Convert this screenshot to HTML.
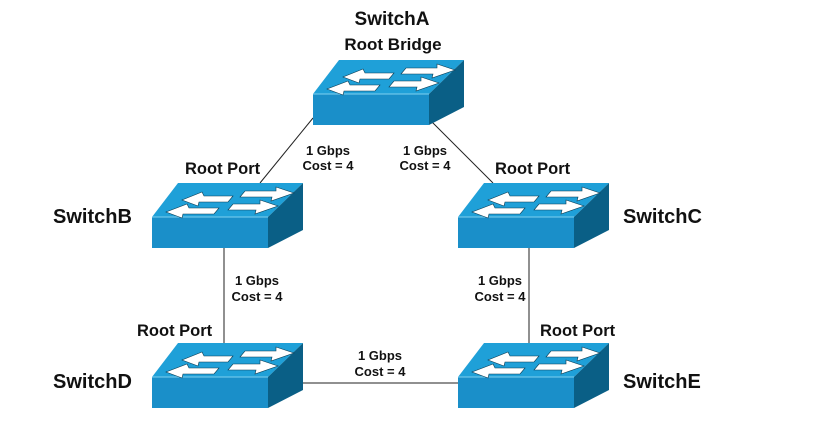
<!DOCTYPE html>
<html><head><meta charset="utf-8"><style>
body{margin:0;background:#fff;}
svg text{font-family:"Liberation Sans",Arial,sans-serif;font-weight:bold;fill:#111;}
</style></head><body>
<svg width="829" height="421" viewBox="0 0 829 421" xmlns="http://www.w3.org/2000/svg">
<defs>
<g id="sw">
  <polygon points="26,0 151,0 116,34 0,34" fill="#1fa0d8"/>
  <polygon points="0,34 116,34 116,65 0,65" fill="#1a8fc9"/>
  <polygon points="116,34 151,0 151,47 116,65" fill="#0a5f86"/>
  <line x1="0" y1="34" x2="116" y2="34" stroke="#7fd0f0" stroke-width="1"/>
  <g fill="#fff" stroke="#0b3b52" stroke-width="0.6">
    <polygon points="50,9 30,17 46,23 47,19 76,19 81,13 52,13"/>
    <polygon points="124,4 142,10 119,18 120,14 88,14 93,8 124,8"/>
    <polygon points="35,21 14,29 30,35 31,31 62,31 67,25 37,25"/>
    <polygon points="108,17 126,23 103,31 104,27 76,27 81,21 108,21"/>
  </g>
</g>
</defs>
<g stroke="#222" stroke-width="1" fill="none">
  <line x1="313" y1="118" x2="260" y2="183"/>
  <line x1="430" y1="120" x2="493" y2="183"/>
  <line x1="224" y1="248" x2="224" y2="343"/>
  <line x1="529" y1="248" x2="529" y2="343"/>
  <line x1="300" y1="383" x2="458" y2="383"/>
</g>
<use href="#sw" x="313" y="60"/>
<use href="#sw" x="152" y="183"/>
<use href="#sw" x="458" y="183"/>
<use href="#sw" x="152" y="343"/>
<use href="#sw" x="458" y="343"/>
<text x="392" y="25" font-size="19" text-anchor="middle">SwitchA</text>
<text x="393" y="50" font-size="17" text-anchor="middle">Root Bridge</text>
<text x="53" y="223" font-size="20">SwitchB</text>
<text x="623" y="223" font-size="20">SwitchC</text>
<text x="53" y="388" font-size="20">SwitchD</text>
<text x="623" y="388" font-size="20">SwitchE</text>
<g font-size="16.5">
<text x="185" y="174">Root Port</text>
<text x="495" y="174">Root Port</text>
<text x="137" y="336">Root Port</text>
<text x="540" y="336">Root Port</text>
</g>
<g font-size="13" text-anchor="middle">
<text x="328" y="155">1 Gbps</text><text x="328" y="170">Cost = 4</text>
<text x="425" y="155">1 Gbps</text><text x="425" y="170">Cost = 4</text>
<text x="257" y="285">1 Gbps</text><text x="257" y="301">Cost = 4</text>
<text x="500" y="285">1 Gbps</text><text x="500" y="301">Cost = 4</text>
<text x="380" y="360">1 Gbps</text><text x="380" y="376">Cost = 4</text>
</g>
</svg>
</body></html>
